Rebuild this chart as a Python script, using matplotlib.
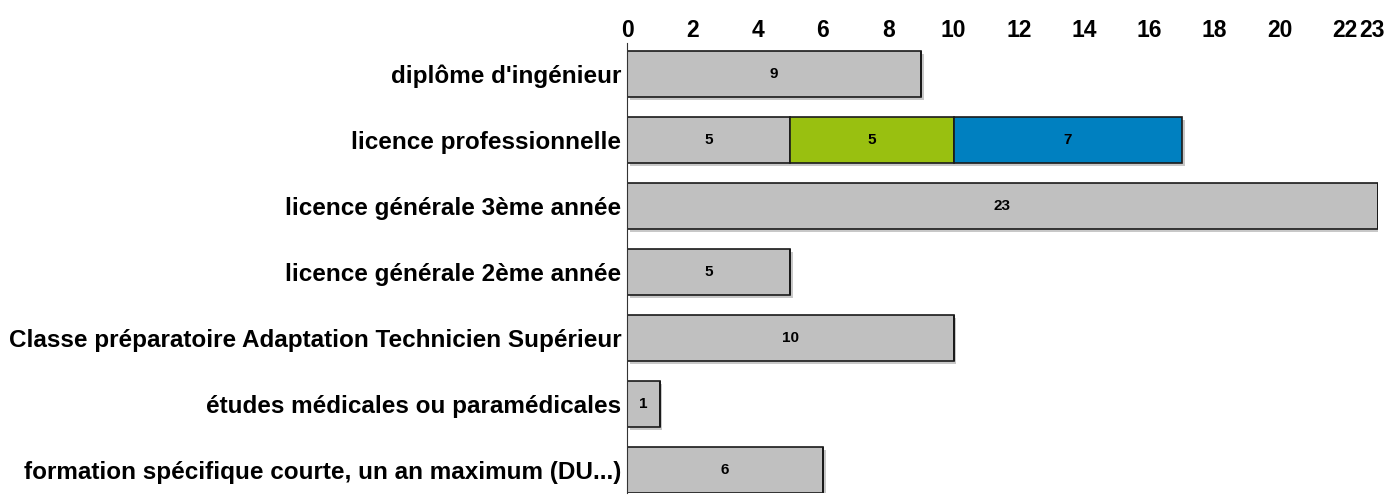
import matplotlib
matplotlib.use('Agg')
import matplotlib.pyplot as plt
import matplotlib.patheffects as pe
from matplotlib.transforms import ScaledTranslation

categories = [
    "diplôme d'ingénieur",
    "licence professionnelle",
    "licence générale 3ème année",
    "licence générale 2ème année",
    "Classe préparatoire Adaptation Technicien Supérieur",
    "études médicales ou paramédicales",
    "formation spécifique courte, un an maximum (DU...)",
]
grey_vals = [9, 5, 23, 5, 10, 1, 6]
green_vals = [0, 5, 0, 0, 0, 0, 0]
blue_vals = [0, 7, 0, 0, 0, 0, 0]
xticks = [0, 2, 4, 6, 8, 10, 12, 14, 16, 18, 20, 22, 23]

plt.rcParams['font.family'] = ['Liberation Sans', 'DejaVu Sans']

fig = plt.figure(figsize=(13.92, 4.95), dpi=100)
ax = fig.add_axes([627 / 1392, 2 / 495, (1378 - 627) / 1392, 450 / 495])

shadow = [pe.withSimplePatchShadow(offset=(2, -2), shadow_rgbFace='#c8c8c8', alpha=1.0)]
y = list(range(len(categories)))
series = [(grey_vals, '#c0c0c0'), (green_vals, '#99c010'), (blue_vals, '#0080c0')]
left = [0] * len(categories)
for vals, color in series:
    bars = ax.barh(y, vals, left=left, height=0.7, color=color,
                   edgecolor='#1a1a1a', linewidth=1.2, path_effects=shadow)
    for b, v, l in zip(bars, vals, left):
        if v > 0:
            ax.text(l + v / 2, b.get_y() + b.get_height() / 2, str(v),
                    ha='center', va='center', fontsize=11, fontweight='bold')
    left = [a + b for a, b in zip(left, vals)]

ax.set_xlim(0, 23)
ax.set_ylim(6.35, -0.47)
ax.set_xticks(xticks)
ax.xaxis.tick_top()
ax.tick_params(axis='x', length=0, pad=0.8, labelsize=16.5)
ax.tick_params(axis='y', length=0, pad=4, labelsize=17.5)
for lab in ax.get_xticklabels() + ax.get_yticklabels():
    lab.set_fontweight('bold')
# last tick label sits a bit left so it fits next to 22
last = ax.get_xticklabels()[-1]
last.set_transform(last.get_transform() + ScaledTranslation(-6 / 100, 0, fig.dpi_scale_trans))
ax.set_yticks(y)
ax.set_yticklabels(categories)
for s in ['top', 'right', 'bottom']:
    ax.spines[s].set_visible(False)
ax.spines['left'].set_color('#333333')

plt.savefig('out.png', dpi=100)
